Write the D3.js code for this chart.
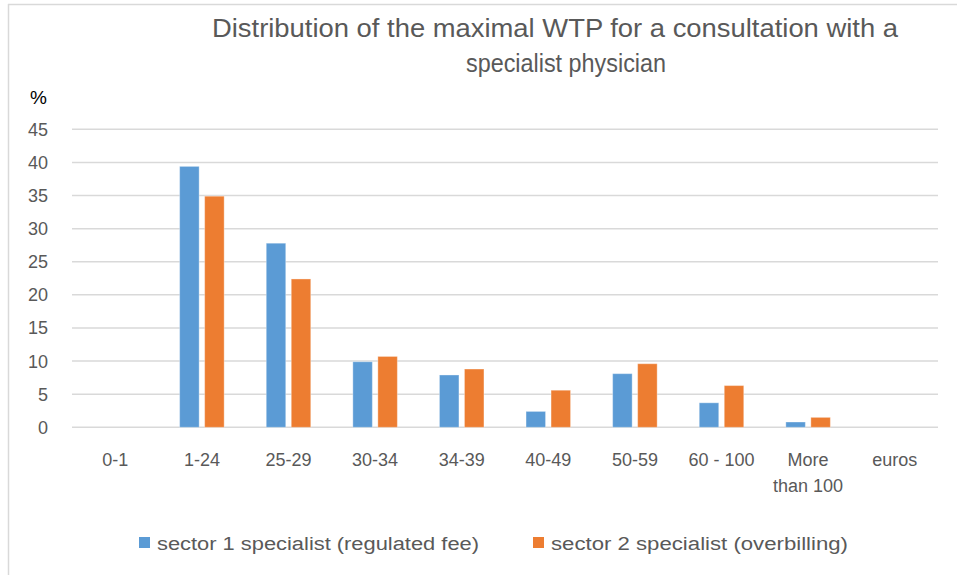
<!DOCTYPE html>
<html>
<head>
<meta charset="utf-8">
<script src="https://cdn.jsdelivr.net/npm/d3@7/dist/d3.min.js"></script>
<style>
  html, body { margin: 0; padding: 0; background: #fff; }
  svg { display: block; }
  text { font-family: "Liberation Sans", Arial, sans-serif; }
</style>
</head>
<body>
<svg id="chart" width="957" height="575"></svg>
<script>
const categories = ["0-1", "1-24", "25-29", "30-34", "34-39", "40-49", "50-59", "60 - 100", "More than 100", "euros"];
const seriesNames = ["sector 1 specialist (regulated fee)", "sector 2 specialist (overbilling)"];
const sector1 = [0, 39.4, 27.8, 9.9, 7.9, 2.4, 8.1, 3.7, 0.8, 0];
const sector2 = [0, 34.9, 22.4, 10.7, 8.8, 5.6, 9.6, 6.3, 1.5, 0];
const yTicks = [0, 5, 10, 15, 20, 25, 30, 35, 40, 45];
const colors = ["#5b9bd5", "#ed7d31"];
const titleLines = ["Distribution of the maximal WTP for a consultation with a", "specialist physician"];

(function () {
const svg = d3.select("#chart");
const plotLeft = 72, plotRight = 938, plotTop = 129.3, plotBottom = 427.3;

// chart border (left/top visible)
svg.append("line").attr("x1", 8.5).attr("x2", 8.5).attr("y1", 4).attr("y2", 575)
  .attr("stroke", "#d9d9d9").attr("stroke-width", 1.5);
svg.append("line").attr("x1", 8).attr("x2", 957).attr("y1", 4.5).attr("y2", 4.5)
  .attr("stroke", "#d9d9d9").attr("stroke-width", 1.5);

const x = d3.scaleBand().domain(categories).range([plotLeft, plotRight]).paddingInner(0.486).paddingOuter(0.243);
const xs = d3.scaleBand().domain([0, 1]).range([0, x.bandwidth()]).paddingInner(0.22);
const y = d3.scaleLinear().domain([0, 45]).range([plotBottom, plotTop]);

// gridlines
svg.append("g").selectAll("line").data(yTicks).join("line")
  .attr("x1", plotLeft).attr("x2", plotRight)
  .attr("y1", d => y(d)).attr("y2", d => y(d))
  .attr("stroke", "#d9d9d9").attr("stroke-width", 1.5);

// y tick labels
svg.append("g").selectAll("text").data(yTicks).join("text")
  .attr("x", 48).attr("y", d => y(d)).attr("dy", "0.36em")
  .attr("text-anchor", "end").attr("fill", "#595959").attr("font-size", 18)
  .text(d => d);

svg.append("text").attr("x", 30).attr("y", 104).attr("fill", "#000").attr("font-size", 19).text("%");

// bars
const series = [sector1, sector2];
series.forEach((vals, si) => {
  svg.append("g").selectAll("rect").data(vals.map((v, i) => ({ c: categories[i], v }))).join("rect")
    .attr("x", d => x(d.c) + xs(si))
    .attr("width", xs.bandwidth())
    .attr("y", d => y(d.v))
    .attr("height", d => y(0) - y(d.v))
    .attr("fill", colors[si])
    .attr("stroke", d => d.v > 0 ? "#ffffff" : "none")
    .attr("stroke-opacity", 0.35)
    .attr("stroke-width", 1);
});

// x labels
const xl = svg.append("g");
categories.forEach(c => {
  const words = c === "More than 100" ? ["More", "than 100"] : [c];
  words.forEach((w, k) => {
    xl.append("text")
      .attr("x", x(c) + x.bandwidth() / 2)
      .attr("y", 466 + k * 26)
      .attr("text-anchor", "middle").attr("fill", "#595959").attr("font-size", 18)
      .text(w);
  });
});

// title
svg.append("text").attr("x", 555).attr("y", 37).attr("text-anchor", "middle")
  .attr("fill", "#595959").attr("font-size", 25).attr("textLength", 686).attr("lengthAdjust", "spacingAndGlyphs")
  .text(titleLines[0]);
svg.append("text").attr("x", 566).attr("y", 72).attr("text-anchor", "middle")
  .attr("fill", "#595959").attr("font-size", 25).attr("textLength", 200).attr("lengthAdjust", "spacingAndGlyphs")
  .text(titleLines[1]);

// legend
const legendPos = [{ sx: 139, tx: 157, tw: 322 }, { sx: 533, tx: 551, tw: 297 }];
seriesNames.forEach((name, i) => {
  svg.append("rect").attr("x", legendPos[i].sx).attr("y", 537).attr("width", 11).attr("height", 11).attr("fill", colors[i]);
  svg.append("text").attr("x", legendPos[i].tx).attr("y", 550).attr("fill", "#595959").attr("font-size", 18)
    .attr("textLength", legendPos[i].tw).attr("lengthAdjust", "spacingAndGlyphs")
    .text(name);
});
})();
</script>
</body>
</html>
